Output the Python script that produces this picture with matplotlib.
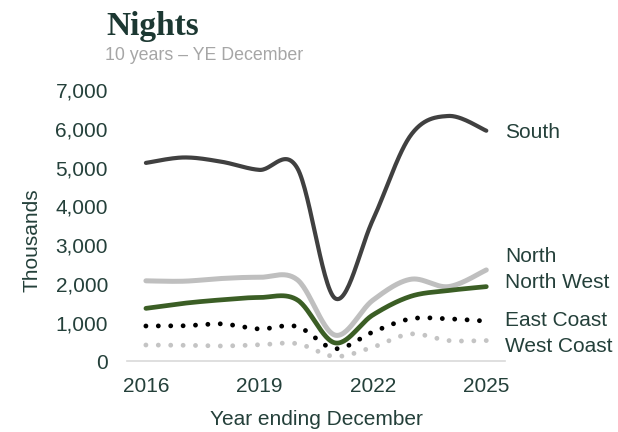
import numpy as np
import matplotlib
matplotlib.use("Agg")
import matplotlib.pyplot as plt

# Annual nights (thousands), year ending December
years = [2016, 2017, 2018, 2019, 2020, 2021, 2022, 2023, 2024, 2025]
south = [5120, 5260, 5150, 4940, 4990, 1630, 3650, 5830, 6330, 5950]
north = [2080, 2070, 2140, 2170, 2110, 680, 1580, 2120, 1930, 2360]
north_west = [1370, 1500, 1590, 1650, 1590, 480, 1200, 1680, 1830, 1930]
east_coast = [915, 920, 970, 840, 900, 330, 760, 1100, 1100, 1040]
west_coast = [425, 420, 400, 430, 460, 130, 370, 710, 540, 540]

series_names = ["South", "North", "North West", "East Coast", "West Coast"]
x_ticks = [2016, 2019, 2022, 2025]
y_ticks = [0, 1000, 2000, 3000, 4000, 5000, 6000, 7000]

TEXT = "#24403a"
FONT = "Liberation Sans"
FS = 15
plt.rcParams["font.family"] = [FONT, "DejaVu Sans"]


def smooth(xs, ys, n=30):
    """Bezier smoothing through every point (Catmull-Rom style tangents)."""
    xs = np.asarray(xs, float)
    ys = np.asarray(ys, float)
    px = np.concatenate([[xs[0]], xs, [xs[-1]]])
    py = np.concatenate([[ys[0]], ys, [ys[-1]]])
    out_x, out_y = [], []
    for i in range(1, len(px) - 2):
        p0 = np.array([px[i], py[i]])
        p3 = np.array([px[i + 1], py[i + 1]])
        p1 = p0 + (np.array([px[i + 1], py[i + 1]]) - np.array([px[i - 1], py[i - 1]])) / 6
        p2 = p3 - (np.array([px[i + 2], py[i + 2]]) - np.array([px[i], py[i]])) / 6
        t = np.linspace(0, 1, n, endpoint=(i == len(px) - 3))[:, None]
        b = ((1 - t) ** 3) * p0 + 3 * ((1 - t) ** 2) * t * p1 + 3 * (1 - t) * t ** 2 * p2 + t ** 3 * p3
        out_x.extend(b[:, 0])
        out_y.extend(b[:, 1])
    return np.array(out_x), np.array(out_y)


fig = plt.figure(figsize=(6.18, 4.32), dpi=100)
ax = fig.add_axes([0.2055, 0.1632, 0.612, 0.6285])

styles = [
    (south, dict(color="#404040", lw=3.0, solid_capstyle="round")),
    (north, dict(color="#bfbfbf", lw=3.6, solid_capstyle="round")),
    (north_west, dict(color="#3b5e25", lw=3.4, solid_capstyle="round")),
    (east_coast, dict(color="#000000", lw=3.5, linestyle=(0, (0.001, 2.55)), dash_capstyle="round")),
    (west_coast, dict(color="#c4c4c4", lw=3.5, linestyle=(0, (0.001, 2.55)), dash_capstyle="round")),
]
for vals, st in styles:
    sx, sy = smooth(years, vals)
    ax.plot(sx, sy, **st)

ax.set_xlim(2015.5, 2025.5)
ax.set_ylim(0, 7000)
ax.set_xticks(x_ticks)
ax.set_xticklabels([str(v) for v in x_ticks])
ax.set_yticks(y_ticks)
ax.set_yticklabels([f"{v:,}" for v in y_ticks])
ax.tick_params(length=0, labelsize=FS, colors=TEXT)
ax.tick_params(axis="y", pad=13.7)
ax.tick_params(axis="x", pad=11.5)
for side in ["top", "right", "left"]:
    ax.spines[side].set_visible(False)
ax.spines["bottom"].set_color("#d9d9d9")
ax.spines["bottom"].set_linewidth(1.2)
ax.set_xlabel("Year ending December", fontsize=FS, color=TEXT, labelpad=10)

fig.text(32 / 618, 1 - 240 / 432, "Thousands", rotation=90, fontsize=FS,
         color=TEXT, ha="center", va="center")

# Series labels at the right-hand end of each line
label_y = [132, 256, 283, 321, 346]
for name, yp in zip(series_names, label_y):
    fig.text(505 / 618, 1 - yp / 432, name, fontsize=FS, color=TEXT,
             ha="left", va="center")

fig.text(106 / 618, 1 - 35 / 432, "Nights", fontsize=24, fontweight="bold",
         family=["Liberation Serif", "DejaVu Serif"], color="#1c3832",
         ha="left", va="baseline")
fig.text(105 / 618, 1 - 60 / 432, "10 years \u2013 YE December", fontsize=12.8,
         color="#a6a6a6", ha="left", va="baseline")

fig.savefig("out.png", dpi=100, facecolor="white")
